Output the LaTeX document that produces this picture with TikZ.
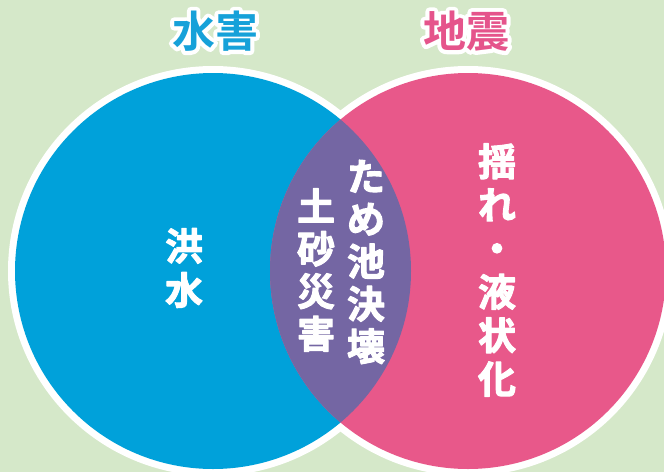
\documentclass[tikz,border=0pt]{standalone}
\usepackage{fontspec}
\newfontfamily\jp{Noto Sans CJK JP}[BoldFont=* Bold]
\definecolor{bgc}{HTML}{D5E8C9}
\definecolor{bluec}{HTML}{00A1DA}
\definecolor{pinkc}{HTML}{E8588A}
\definecolor{purplec}{HTML}{7466A3}
\definecolor{tblue}{HTML}{16A1D9}
\definecolor{tpink}{HTML}{E5548B}
\newcommand{\whiteoutline}[1]{\special{pdf:literal direct 2 Tr 8 w 1 j 1 1 1 RG 1 1 1 rg}#1\special{pdf:literal direct 0 Tr}}
\newcommand{\emb}[1]{\special{pdf:literal direct 2 Tr 1 w 1 j}#1\special{pdf:literal direct 0 Tr}}
\tikzset{
  vtext/.style={text=white, align=center, inner sep=0pt,
    font=\jp\bfseries\fontsize{38}{44}\selectfont},
  ttl/.style={inner sep=0pt, font=\jp\bfseries\fontsize{43}{46}\selectfont}
}
\begin{document}
\begin{tikzpicture}[x=1pt,y=-1pt]
\fill[bgc] (0,0) rectangle (664,472);
\useasboundingbox (0,0) rectangle (664,472);
\coordinate (cw) at (213,271);
\coordinate (ce) at (468,271);
% white outline of union
\draw[white, line width=14pt] (cw) circle[radius=198];
\draw[white, line width=14pt] (ce) circle[radius=198];
\fill[bluec] (cw) circle[radius=198];
\fill[pinkc] (ce) circle[radius=198];
\begin{scope}
  \clip (cw) circle[radius=198];
  \fill[purplec] (ce) circle[radius=198];
\end{scope}
% titles (white outline layer, then coloured text)
\node[ttl, text=white] (twbg) at (215,31) {\whiteoutline{水害}};
\node[ttl, text=white] (tebg) at (466,31) {\whiteoutline{地震}};
\node[ttl, text=tblue] (tw) at (215,31) {水害};
\node[ttl, text=tpink] (te) at (466,31) {地震};
% vertical texts
\node[vtext] (kozui) at (184,268) {\emb{洪}\\\emb{水}};
\node[vtext, font=\jp\bfseries\fontsize{38}{42.5}\selectfont] (tameike) at (366,262) {\emb{た}\\\emb{め}\\\emb{池}\\\emb{決}\\\emb{壊}};
\node[vtext, font=\jp\bfseries\fontsize{38}{42.5}\selectfont] (dosha) at (316,270) {\emb{土}\\\emb{砂}\\\emb{災}\\\emb{害}};
\node[vtext, font=\jp\bfseries\fontsize{38}{43.5}\selectfont] (yure) at (497,270) {\emb{揺}\\\emb{れ}\\\emb{・}\\\emb{液}\\\emb{状}\\\emb{化}};
\end{tikzpicture}
\end{document}
